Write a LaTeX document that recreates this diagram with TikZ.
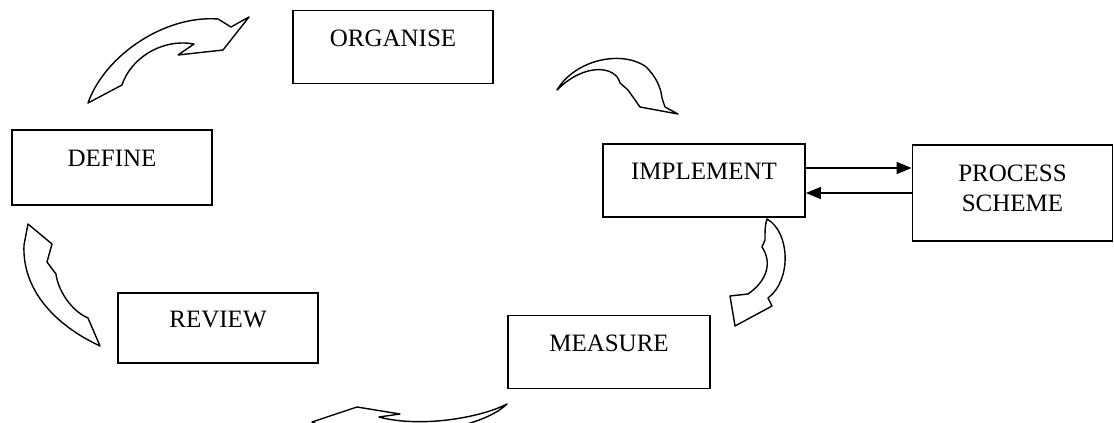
\documentclass[tikz,border=0pt]{standalone}
\usepackage{fontspec}
\setmainfont{Liberation Serif}
\usetikzlibrary{arrows.meta}

\newcommand{\bentarrow}[1]{
	\draw[line width=1.4pt, fill=white, line join=round] #1 -- cycle;
}

\begin{document}
\begin{tikzpicture}[x=1pt, y=-1pt,
	stage/.style={draw, line width=1.8pt, minimum width=\stW pt, minimum height=\stH pt,
		inner sep=0pt, text depth=18pt, font=\fontsize{25}{30}\selectfont},
	link/.style={line width=1.5pt, -{Triangle[length=15pt, width=12pt]}}]
\useasboundingbox (0,0) rectangle (1114,423);

\pgfmathsetmacro{\stW}{200}
\pgfmathsetmacro{\stH}{73}

\node[stage] (organise) at (393,47) {ORGANISE};
\node[stage, minimum height=75pt] (define) at (112,167.5) {DEFINE};
\node[stage, minimum width=202pt] (implement) at (704,180.5) {IMPLEMENT};
\node[stage, minimum height=96pt, align=center, text depth=9pt] (process) at (1012.5,193) {PROCESS\\SCHEME};
\node[stage, minimum height=70pt] (review) at (218,328) {REVIEW};
\node[stage, minimum width=202pt] (measure) at (609,352) {MEASURE};

\draw[link] ([yshift=12.5pt]implement.east) -- ([yshift=12.5pt]implement.east -| process.west);
\draw[link] ([yshift=-12.5pt]implement.east -| process.west) -- ([yshift=-12.5pt]implement.east);

\bentarrow{(88,103) .. controls (105,55) and (165,15) .. (218,19) -- (231,27) -- (249,17) -- (223,50) -- (178,55) -- (194,44) .. controls (160,38) and (130,60) .. (122,85)}
\bentarrow{(557,90) .. controls (575,60) and (620,50) .. (645,66) .. controls (656,76) and (661,88) .. (662,98) -- (665,107) -- (678,114) -- (640,107) -- (628,90) -- (620,83) .. controls (616,66) and (585,62) .. (557,90)}
\bentarrow{(767,219) .. controls (790,232) and (792,280) .. (768,298) -- (772,306) -- (735,326) -- (730,296) -- (748,294) .. controls (768,280) and (772,262) .. (762,247) -- (765,240) .. controls (765,230) and (765,225) .. (767,219)}
\bentarrow{(507,404) .. controls (480,418) and (420,428) .. (379,417) -- (400,414) -- (357,407) -- (312,422) -- (336,432) -- (345,428) .. controls (400,440) and (480,430) .. (507,404)}
\bentarrow{(100,346) .. controls (55,325) and (22,290) .. (24,245) -- (28,224) -- (52,244) -- (47,262) -- (56,274) .. controls (58,290) and (70,308) .. (84,316) -- (88,318)}
\end{tikzpicture}
\end{document}
